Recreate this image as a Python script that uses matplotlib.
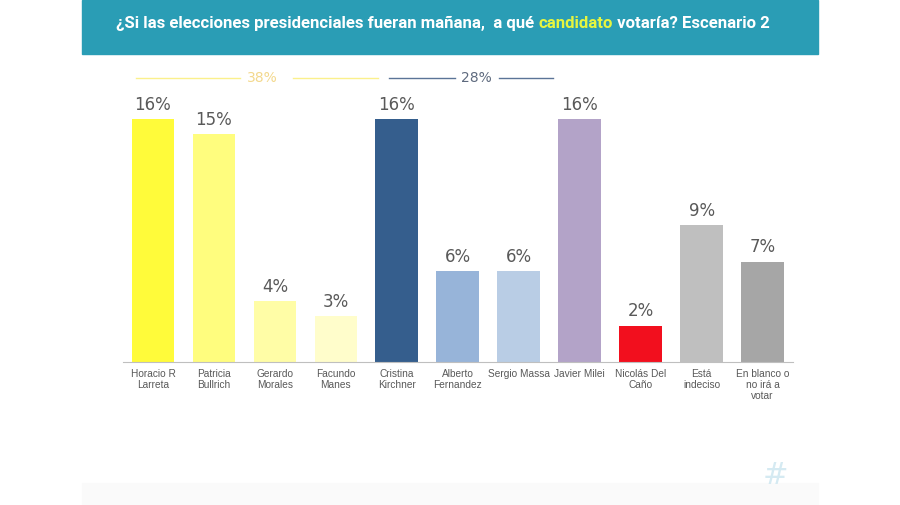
import matplotlib.pyplot as plt
from matplotlib.patches import Rectangle

categories = ["Horacio R\nLarreta", "Patricia\nBullrich", "Gerardo\nMorales",
              "Facundo\nManes", "Cristina\nKirchner", "Alberto\nFernandez",
              "Sergio Massa", "Javier Milei", "Nicolás Del\nCaño",
              "Está\nindeciso", "En blanco o\nno irá a\nvotar"]
values = [16, 15, 4, 3, 16, 6, 6, 16, 2.4, 9, 6.6]
colors = ["#fffb3a", "#fffd7e", "#fffda6", "#fffdcb", "#355e8d", "#97b4d9",
          "#b9cde5", "#b3a3c8", "#f20f1e", "#bfbfbf", "#a6a6a6"]

group_labels = ["38%", "28%"]
group_colors = ["#fbf08c", "#5b7497"]
group_text_colors = ["#f3d88c", "#5e6a7e"]

fig = plt.figure(figsize=(9, 5.05), dpi=100)
fig.patch.set_facecolor("white")

# header band
fig.patches.append(Rectangle((82 / 900, 1 - 54 / 505), 736 / 900, 54 / 505,
                             transform=fig.transFigure, color="#2a9db5", zorder=0))
# faint footer strip
fig.patches.append(Rectangle((82 / 900, 0), 736 / 900, 22 / 505,
                             transform=fig.transFigure, color="#fafafa", zorder=0))

title_parts = [("¿Si las elecciones presidenciales fueran mañana,  a qué ", "white"),
               ("candidato", "#e6f53f"),
               (" votaría? Escenario 2", "white")]
fig.canvas.draw()
renderer = fig.canvas.get_renderer()
texts = []
for s, c in title_parts:
    t = fig.text(0, 1 - 23 / 505, s, color=c, fontsize=12.1, fontweight="bold",
                 family="Roboto", va="center", ha="left")
    texts.append(t)
widths = [t.get_window_extent(renderer).width for t in texts]
x = 443 - sum(widths) / 2
for t, w in zip(texts, widths):
    t.set_x(x / 900)
    x += w

ax = fig.add_axes([122.5 / 900, 143 / 505, 670.5 / 900, 18 * 15.19 / 505])
xs = range(len(values))
ax.bar(xs, values, width=0.7, color=colors, zorder=2)
for xi, v in zip(xs, values):
    ax.text(xi, v + 0.35, f"{round(v)}%", ha="center", va="bottom",
            fontsize=12, color="#595959", family="DejaVu Sans")

ax.set_xlim(-0.5, len(values) - 0.5)
ax.set_ylim(0, 18)
for sp in ["top", "right", "left"]:
    ax.spines[sp].set_visible(False)
ax.spines["bottom"].set_color("#bfbfbf")
ax.set_yticks([])
ax.set_xticks(list(xs))
ax.set_xticklabels(categories, fontsize=7.3, color="#595959",
                   family="Liberation Sans", linespacing=1.15)
ax.tick_params(axis="x", length=0, pad=5)

# group brackets
gy = 18.7
segs = [[(-0.28, 1.43), (2.30, 3.69)], [(3.87, 4.95), (5.68, 6.56)]]
label_x = [1.79, 5.30]
for seg, lx, lab, lc, tc in zip(segs, label_x, group_labels,
                                group_colors, group_text_colors):
    for a, b in seg:
        ax.plot([a, b], [gy, gy], color=lc, lw=1.0, clip_on=False)
    ax.text(lx, gy, lab, ha="center", va="center", fontsize=10, color=tc,
            clip_on=False)

fig.text(775 / 900, 1 - 475 / 505, "#", fontsize=22, color="#d5eaf2",
         ha="center", va="center")

fig.savefig("out.png", dpi=100)
